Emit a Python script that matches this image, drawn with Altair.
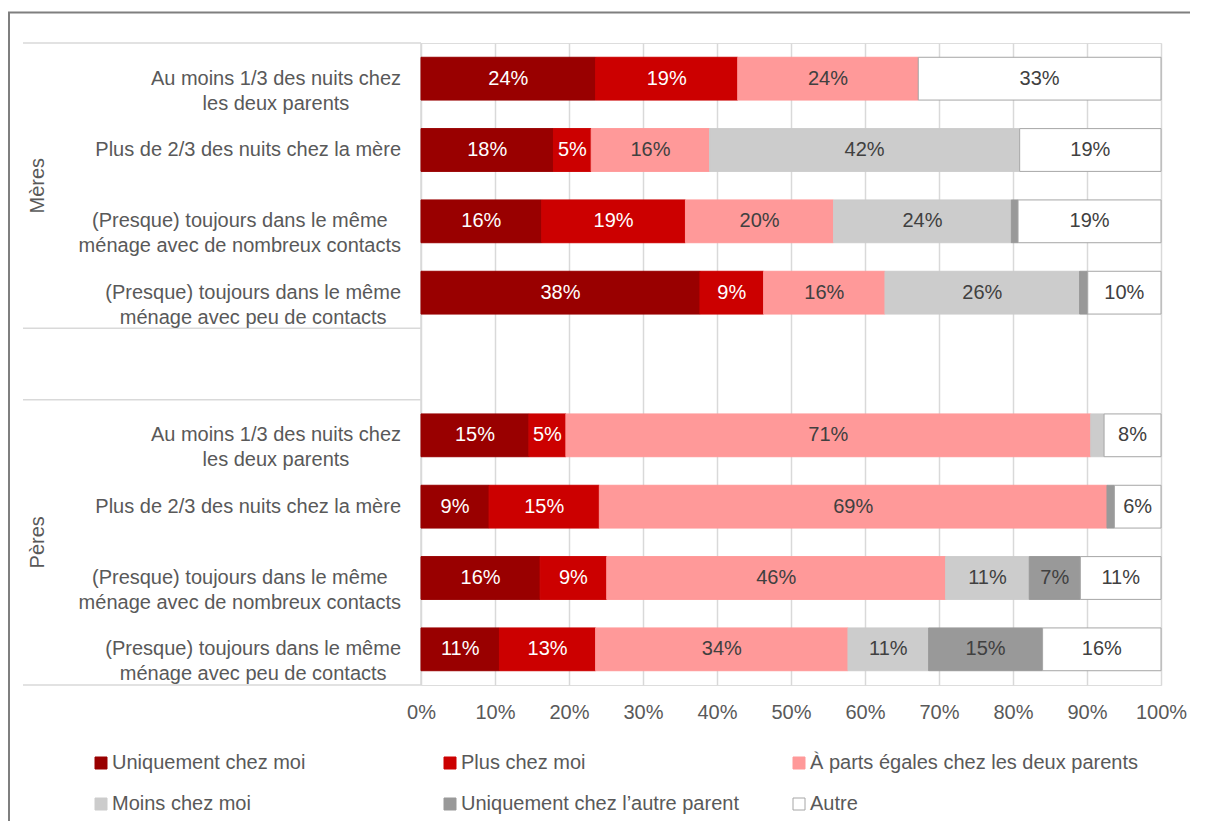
import altair as alt
import pandas as pd

# ---------------- data ----------------
groups = ["Mères", "Pères"]
categories = [
    "Au moins 1/3 des nuits chez\nles deux parents",
    "Plus de 2/3 des nuits chez la mère",
    "(Presque) toujours dans le même\nménage avec de nombreux contacts",
    "(Presque) toujours dans le même\nménage avec peu de contacts",
]
series = [
    "Uniquement chez moi",
    "Plus chez moi",
    "À parts égales chez les deux parents",
    "Moins chez moi",
    "Uniquement chez l’autre parent",
    "Autre",
]
colors = ["#990000", "#cc0000", "#ff9999", "#cccccc", "#999999", "#ffffff"]
strokes = ["#990000", "#cc0000", "#ff9999", "#cccccc", "#999999", "#a6a6a6"]

# values in %, order: Mères (4 categories) then Pères (4 categories)
uniq_moi   = [23.6, 17.9, 16.3, 37.7, 14.6, 9.2, 16.1, 10.6]
plus_moi   = [19.2, 5.1, 19.4, 8.6, 5.0, 14.9, 9.0, 13.0]
egal       = [24.4, 16.0, 20.0, 16.4, 71.0, 68.6, 45.8, 34.1]
moins_moi  = [0.0, 41.9, 24.0, 26.3, 1.8, 0.0, 11.3, 10.9]
uniq_autre = [0.0, 0.0, 0.9, 1.1, 0.0, 1.0, 6.9, 15.4]
autre      = [32.8, 19.1, 19.3, 9.9, 7.7, 6.3, 10.9, 16.0]
values = [uniq_moi, plus_moi, egal, moins_moi, uniq_autre, autre]

W, H = 740, 642
PAD = {"left": 413, "top": 35, "right": 29, "bottom": 136}
FONT = "Liberation Sans"
FS = 20
TXT = "#595959"

# Arial / Liberation Sans advance widths (per 1000 em) to centre the
# lines of each category label inside a right-aligned block
_ADV = {" ": 278, "(": 333, ")": 333, "/": 278, "A": 667, "P": 667, "a": 556,
        "c": 500, "i": 222, "j": 222, "l": 222, "m": 833, "r": 333, "s": 500,
        "t": 278, "v": 500, "x": 500, "z": 500}


def text_width(s):
    return sum(_ADV.get(ch, 556) for ch in s) * FS / 1000.0


# ---------------- tables ----------------
rows = []
cat_rows = []
n_cat = len(categories)
for gi, g in enumerate(groups):
    for ci, c in enumerate(categories):
        idx = gi * n_cat + ci
        pos = gi * (n_cat + 1) + ci  # one empty slot between groups
        block = max(text_width(line) for line in c.split("\n"))
        cat_rows.append({"label": c, "yc": pos + 0.5, "xc": -20 - block / 2})
        for si, s in enumerate(series):
            rows.append({
                "row_id": idx, "group": g, "category": c, "series": s,
                "order": si, "value": values[si][idx],
                "yt": pos + 0.2, "yb": pos + 0.8, "yc": pos + 0.5,
            })
df = pd.DataFrame(rows)
cats_df = pd.DataFrame(cat_rows)
grp_df = pd.DataFrame([
    {"group": g, "ym": gi * (n_cat + 1) + n_cat / 2} for gi, g in enumerate(groups)
])
sep_df = pd.DataFrame({"b": sorted({0, n_cat, n_cat + 1, 2 * n_cat + 1})})
one = pd.DataFrame({"a": [0]})

yscale = alt.Scale(domain=[0, 2 * n_cat + 1], reverse=True, nice=False, zero=False)

base = alt.Chart(df).transform_stack(
    stack="value", groupby=["row_id"], as_=["x0", "x1"],
    offset="normalize", sort=[alt.SortField("order")],
).transform_calculate(
    xm="(datum.x0 + datum.x1) / 2",
    lab="format(datum.value, '.0f') + '%'",
)

bars = base.transform_filter("datum.value > 0").mark_rect(strokeWidth=1).encode(
    x=alt.X("x0:Q", scale=alt.Scale(domain=[0, 1], nice=False),
            axis=alt.Axis(values=[i / 10 for i in range(11)], format=".0%",
                          grid=True, gridColor="#d9d9d9", gridWidth=1.5,
                          domain=False, ticks=False, labelFontSize=FS,
                          labelFont=FONT, labelColor=TXT, labelPadding=17,
                          labelFlush=False, title=None)),
    x2="x1:Q",
    y=alt.Y("yt:Q", scale=yscale, axis=None),
    y2="yb:Q",
    color=alt.Color("series:N", scale=alt.Scale(domain=series, range=colors),
                    legend=alt.Legend(title=None, orient="none", legendX=-330,
                                      legendY=710, columns=3, direction="horizontal",
                                      gridAlign="all",
                                      columnPadding=-3, rowPadding=21,
                                      symbolType="square", symbolSize=144,
                                      symbolStrokeColor="#a6a6a6",
                                      symbolStrokeWidth=1, labelFontSize=FS,
                                      labelFont=FONT, labelColor=TXT,
                                      labelOffset=1, labelLimit=600, padding=0)),
    stroke=alt.Stroke("series:N", scale=alt.Scale(domain=series, range=strokes),
                      legend=None),
)

labels = base.transform_filter("datum.value >= 3").mark_text(
    fontSize=FS, font=FONT, baseline="middle", align="center"
).encode(
    x="xm:Q",
    y=alt.Y("yc:Q", scale=yscale, axis=None),
    text="lab:N",
    color=alt.condition(
        alt.FieldOneOfPredicate(field="series", oneOf=series[:2]),
        alt.value("#ffffff"), alt.value("#404040")),
)

cat_labels = alt.Chart(cats_df).mark_text(
    fontSize=FS, font=FONT, align="center", baseline="middle",
    lineBreak="\n", lineHeight=25, color=TXT,
).encode(x=alt.X("xc:Q", scale=None), y=alt.Y("yc:Q", scale=yscale, axis=None),
         text="label:N")

grp_labels = alt.Chart(grp_df).mark_text(
    fontSize=FS, font=FONT, angle=270, align="center", baseline="middle", color=TXT,
).encode(x=alt.value(-383), y=alt.Y("ym:Q", scale=yscale, axis=None), text="group:N")

seps = alt.Chart(sep_df).mark_rule(color="#d9d9d9", strokeWidth=1.5).encode(
    x=alt.value(-398), x2=alt.value(0), y=alt.Y("b:Q", scale=yscale, axis=None))

left_line = alt.Chart(one).mark_rule(color="#d9d9d9", strokeWidth=1.5).encode(
    x=alt.value(0), y=alt.value(0), y2=alt.value(H))

frame_top = alt.Chart(one).mark_rule(color="#7f7f7f", strokeWidth=2).encode(
    x=alt.value(-413), x2=alt.value(W + PAD["right"]), y=alt.value(-30.5))
frame_left = alt.Chart(one).mark_rule(color="#7f7f7f", strokeWidth=2).encode(
    x=alt.value(-412), y=alt.value(-31), y2=alt.value(H + PAD["bottom"]))

chart = alt.layer(
    seps, left_line, bars, labels, cat_labels, grp_labels, frame_top, frame_left
).properties(
    width=W, height=H, padding=PAD,
    autosize=alt.AutoSizeParams(type="none"),
).configure_view(stroke=None).configure(background="white")

chart.save("out.html", embed_options={"renderer": "svg", "actions": False})
